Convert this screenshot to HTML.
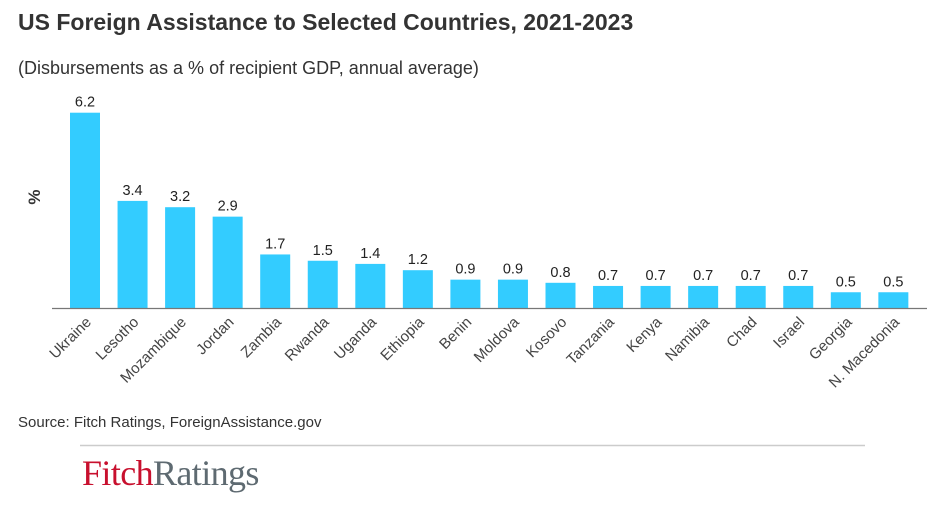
<!DOCTYPE html>
<html><head><meta charset="utf-8"><style>
body{margin:0;background:#fff;width:936px;height:501px;overflow:hidden;font-family:"Liberation Sans",sans-serif}
</style></head><body>
<svg id="s" width="936" height="501" xmlns="http://www.w3.org/2000/svg" font-family="Liberation Sans, sans-serif">
<text x="18" y="30" font-size="23" font-weight="bold" fill="#333">US Foreign Assistance to Selected Countries, 2021-2023</text>
<text x="18" y="74" font-size="18" fill="#333">(Disbursements as a % of recipient GDP, annual average)</text>
<text x="40" y="197" font-size="17" font-weight="bold" fill="#333" transform="rotate(-90 40 197)" text-anchor="middle">%</text>
<g id="bars"></g>
<line x1="52" y1="308.5" x2="927" y2="308.5" stroke="#777" stroke-width="1.3"/>
<text x="18" y="427" font-size="15" fill="#333">Source: Fitch Ratings, ForeignAssistance.gov</text>
<line x1="80" y1="445.5" x2="865" y2="445.5" stroke="#ccc" stroke-width="1.5"/>
<text x="82" y="485" font-size="36" font-family="Liberation Serif, serif" letter-spacing="-0.6"><tspan fill="#c8102e">Fitch</tspan><tspan fill="#5e6a71">Ratings</tspan></text>
</svg>
<script>
var d=[["Ukraine",6.2],["Lesotho",3.4],["Mozambique",3.2],["Jordan",2.9],["Zambia",1.7],["Rwanda",1.5],["Uganda",1.4],["Ethiopia",1.2],["Benin",0.9],["Moldova",0.9],["Kosovo",0.8],["Tanzania",0.7],["Kenya",0.7],["Namibia",0.7],["Chad",0.7],["Israel",0.7],["Georgia",0.5],["N. Macedonia",0.5]];
var g=document.getElementById("bars"),h="";
d.forEach(function(e,i){var x=70+i*47.55,bh=e[1]*31.5,y=308-bh,cx=x+15;
h+='<rect x="'+x+'" y="'+y+'" width="30" height="'+bh+'" fill="#33ccff"/>';
h+='<text x="'+cx+'" y="'+(y-6)+'" font-size="14.5" fill="#222" text-anchor="middle">'+e[1].toFixed(1)+'</text>';
h+='<text x="'+(cx+7)+'" y="'+323+'" font-size="15" fill="#444" text-anchor="end" transform="rotate(-45 '+(cx+7)+' 323)">'+e[0]+'</text>';});
g.innerHTML=h;
</script>
</body></html>
